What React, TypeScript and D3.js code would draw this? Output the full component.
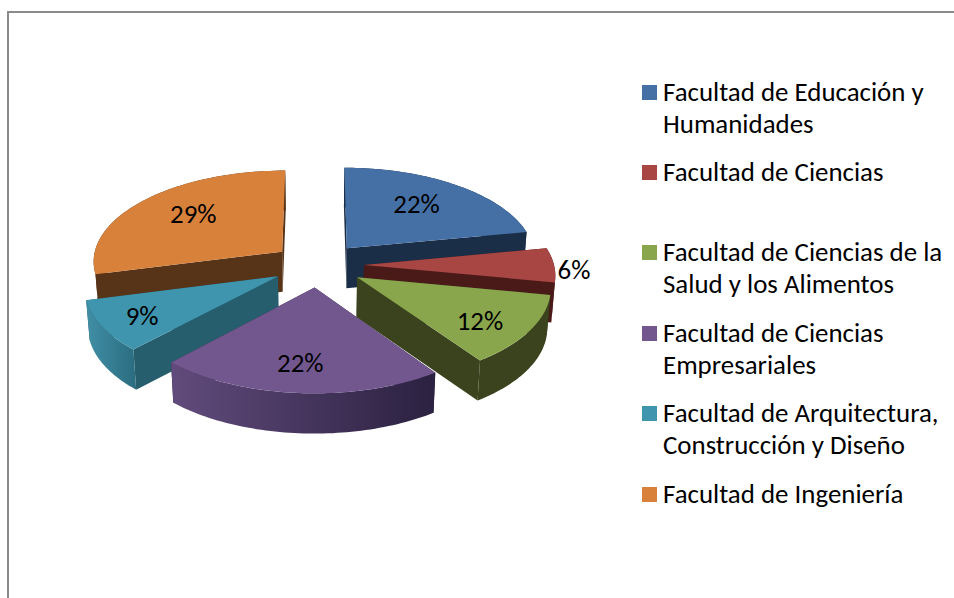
import React from "react";
import * as d3 from "d3";

const categories = [
  ["Facultad de Educación y", "Humanidades"],
  ["Facultad de Ciencias"],
  ["Facultad de Ciencias de la", "Salud y los Alimentos"],
  ["Facultad de Ciencias", "Empresariales"],
  ["Facultad de Arquitectura,", "Construcción y Diseño"],
  ["Facultad de Ingeniería"],
];
const values = [22, 6, 12.3, 21.7, 9, 29];
const topColors = ["#4470A6", "#A84644", "#8AA64D", "#72578F", "#3F95AE", "#D8813B"];
const faceColors = ["#1B2E47", "#4A1A18", "#3A431D", "#2B2140", "#265E6D", "#573318"];
const rimLeftColors = ["#1B2E47", "#4A1A18", "#3A431D", "#614B7C", "#418FA6", "#573318"];
const rimRightColors = ["#1B2E47", "#4A1A18", "#3A431D", "#2B2140", "#2A6C7F", "#573318"];
const labelRadii = [0.67, 1.1, 0.74, 0.73, 0.78, 0.66];
const labelDx = [-5, 1, -3, -3, 0, 4];
const labelDy = [-1, 5, 4, 0, 1, -4];
const drawOrder = [5, 0, 1, 2, 4, 3];
const legendLineYs = [[100.5, 132.5], [180.5], [260.5, 292.5], [341.5, 373.5], [421.5, 453.5], [502.5]];

const CX = 318, CY = 265, R = 190, EXPLODE = 46, SQUASH = 0.48, PERSP = 0.0005, DEPTH = 40, SHRINK = 0.985;
const FONT = "Carlito, Lato, sans-serif";
const FS = 26.9;

function project(a: number, r: number, mid: number, z = 0): [number, number] {
  const u = EXPLODE * Math.sin(mid) + r * Math.sin(a);
  const d = -EXPLODE * Math.cos(mid) - r * Math.cos(a);
  const s = 1 / (1 - PERSP * d);
  const x = CX + u * s;
  const y = CY + SQUASH * d * s;
  if (z === 0) return [x, y];
  return [CX + (x - CX) * SHRINK, CY + (y - CY) * SHRINK + z * (1 + (s - 1) * 0.4)];
}

export default function App() {
  const arcs = d3.pie<number>().sort(null)(values);
  const line = d3.line();
  const slices = arcs.map((arc, i) => {
    const mid = (arc.startAngle + arc.endAngle) / 2;
    const angles = d3.range(0, 61).map((k) => arc.startAngle + ((arc.endAngle - arc.startAngle) * k) / 60);
    const edge = (z: number) => angles.map((a) => project(a, R, mid, z));
    const apex = (z: number) => project(0, 0, mid, z);
    const top = line([apex(0), ...edge(0)]) + "Z";
    const rim = line([...edge(0), ...edge(DEPTH).reverse()]) + "Z";
    const faceA = line([apex(0), edge(0)[0], edge(DEPTH)[0], apex(DEPTH)]) + "Z";
    const faceB = line([apex(0), edge(0)[60], edge(DEPTH)[60], apex(DEPTH)]) + "Z";
    const lab = project(mid, labelRadii[i] * R, mid);
    return { i, top, rim, faceA, faceB, lab, text: `${Math.round(values[i])}%` };
  });
  return (
    <svg width={954} height={598} style={{ position: "absolute", left: 0, top: 0, background: "#fff" }} fontFamily={FONT}>
      <defs>
        {values.map((_, i) => (
          <linearGradient key={i} id={`rim${i}`} x1="0" x2="1" y1="0" y2="0">
            <stop offset="0" stopColor={rimLeftColors[i]} />
            <stop offset="1" stopColor={rimRightColors[i]} />
          </linearGradient>
        ))}
      </defs>
      <path d="M8,598V12H954" fill="none" stroke="#8a8a8a" strokeWidth={2} />
      {drawOrder.map((idx) => {
        const s = slices[idx];
        return (
          <g key={idx}>
            <path d={s.faceA} fill={faceColors[idx]} />
            <path d={s.faceB} fill={faceColors[idx]} />
            <path d={s.rim} fill={`url(#rim${idx})`} />
            <path d={s.top} fill={topColors[idx]} />
          </g>
        );
      })}
      {slices.map((s) => (
        <text key={s.i} x={s.lab[0] + labelDx[s.i]} y={s.lab[1] + labelDy[s.i]} dy="0.35em" textAnchor="middle" fontSize={FS} fill="#000">
          {s.text}
        </text>
      ))}
      {categories.map((lines, i) => (
        <g key={i}>
          <rect x={642} y={Math.round(legendLineYs[i][0]) - 16} width={15} height={15} fill={topColors[i]} />
          {lines.map((t, j) => (
            <text key={j} x={663} y={legendLineYs[i][j]} fontSize={FS} fill="#000">
              {t}
            </text>
          ))}
        </g>
      ))}
    </svg>
  );
}
